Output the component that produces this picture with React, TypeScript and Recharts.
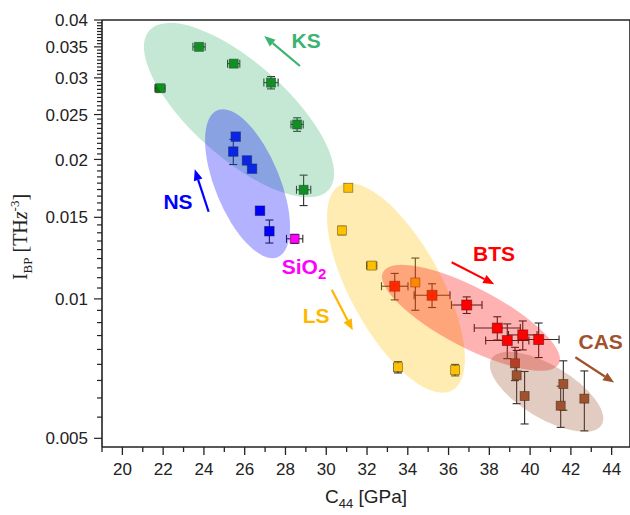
import {
    ScatterChart,
    Scatter,
    XAxis,
    YAxis,
    ErrorBar,
    ReferenceDot,
    ReferenceLine,
} from "recharts"

// C44 [GPa], I_BP [THz^-3], with x / y errors
const KS_X = [21.85, 23.76, 25.46, 27.29, 28.57, 28.89]
const KS_Y = [0.0285, 0.035, 0.0322, 0.0293, 0.0238, 0.0172]
const KS_EX = [0.25, 0.3, 0.3, 0.35, 0.3, 0.35]
const KS_EY = [0.0002, 0.0003, 0.0003, 0.0009, 0.0008, 0.0013]

const NS_X = [25.56, 25.44, 26.11, 26.36, 26.75, 27.21]
const NS_Y = [0.0224, 0.0208, 0.0199, 0.0191, 0.0155, 0.014]
const NS_EX = [0.1, 0.1, 0.1, 0.1, 0.1, 0.1]
const NS_EY = [0.0002, 0.0013, 0.0002, 0.0002, 0.0002, 0.0008]

const SIO2_X = [28.45]
const SIO2_Y = [0.01348]
const SIO2_EX = [0.4]
const SIO2_EY = [0.0003]

const LS_X = [31.08, 30.77, 32.23, 34.37, 33.52, 36.32]
const LS_Y = [0.01737, 0.01405, 0.0118, 0.01085, 0.00712, 0.00702]
const LS_EX = [0.15, 0.15, 0.25, 0.15, 0.15, 0.15]
const LS_EY = [0.0002, 0.0003, 0.0002, 0.0014, 0.0002, 0.0002]

const BTS_X = [33.36, 35.19, 36.89, 38.39, 38.88, 39.64, 40.42]
const BTS_Y = [0.01065, 0.01018, 0.0097, 0.00865, 0.00813, 0.00836, 0.00817]
const BTS_EX = [0.65, 0.88, 0.75, 1.13, 1.06, 0.7, 1.0]
const BTS_EY = [0.0007, 0.0006, 0.0004, 0.0005, 0.0007, 0.0006, 0.0007]

const CAS_X = [39.26, 39.34, 39.73, 41.63, 41.5, 42.66]
const CAS_Y = [0.00726, 0.00684, 0.00617, 0.00655, 0.00588, 0.00609]
const CAS_EX = [0.15, 0.15, 0.15, 0.15, 0.15, 0.15]
const CAS_EY = [0.0006, 0.0009, 0.0008, 0.0008, 0.0006, 0.0009]

const X_TICKS = [19, 20, 21, 22, 23, 24, 25, 26, 27, 28, 29, 30, 31, 32, 33, 34, 35, 36, 37, 38, 39, 40, 41, 42, 43, 44]
const X_LABELS = [20, 22, 24, 26, 28, 30, 32, 34, 36, 38, 40, 42, 44]
const Y_LABELS = [0.005, 0.01, 0.015, 0.02, 0.025, 0.03, 0.035, 0.04]

// groups: ellipse centre (data coords) + label / arrow positions
const GROUPS = [
    { name: "KS", color: "#3cb371", cx: 25.72, cy: 0.02556, rx: 120, ry: 47.5, rot: 41.6, lx: 29.01, ly: 0.03622, ax: [28.71, 26.96], ay: [0.03182, 0.03694] },
    { name: "NS", color: "#0000ff", cx: 26.14, cy: 0.01773, rx: 79.4, ry: 32.4, rot: 67.7, lx: 22.73, ly: 0.01627, ax: [24.23, 23.55], ay: [0.01542, 0.01904] },
    { name: "LS", color: "#ffc000", cx: 33.42, cy: 0.01056, rx: 117, ry: 45.6, rot: 61.3, lx: 29.5, ly: 0.00922, ax: [30.27, 31.3], ay: [0.01047, 0.00856] },
    { name: "BTS", color: "#ff0000", cx: 37.1, cy: 0.0091, rx: 99.2, ry: 29.8, rot: 27.6, lx: 38.23, ly: 0.01256, ax: [36.15, 38.24], ay: [0.012, 0.01076] },
    { name: "CAS", color: "#a0522d", cx: 40.81, cy: 0.0063, rx: 64.2, ry: 26.3, rot: 30.9, lx: 43.46, ly: 0.00809, ax: [42.22, 44.12], ay: [0.00748, 0.0066] },
]

const FONT = "'Liberation Sans', Arial, sans-serif"

const zip = (xs: number[], ys: number[], ex: number[], ey: number[]) =>
    xs.map((x, i) => ({ x, y: ys[i], ex: ex[i], ey: ey[i] }))

const Y_TICKS = (() => {
    const t: number[] = []
    for (let i = 0; i < Y_LABELS.length; i++) {
        t.push(Y_LABELS[i])
        if (i < Y_LABELS.length - 1) {
            const step = (Y_LABELS[i + 1] - Y_LABELS[i]) / 9
            for (let k = 1; k < 9; k++) t.push(Y_LABELS[i] + k * step)
        }
    }
    return t
})()

const isMajorY = (v: number) => Y_LABELS.some((m) => Math.abs(m - v) < 1e-7)

function XTick(props: any) {
    const { x, y, payload } = props
    const major = X_LABELS.includes(payload.value)
    return (
        <g>
            <line x1={x} x2={x} y1={y} y2={y + (major ? 8 : 5)} stroke="#222" strokeWidth={1.3} />
            {major && (
                <text x={x} y={y + 28} textAnchor="middle" fontSize={17} fontFamily={FONT} fill="#222">
                    {payload.value}
                </text>
            )}
        </g>
    )
}

function YTick(props: any) {
    const { x, y, payload } = props
    const major = isMajorY(payload.value)
    return (
        <g>
            <line x1={x - (major ? 8 : 5)} x2={x} y1={y} y2={y} stroke="#222" strokeWidth={1.2} />
            {major && (
                <text x={x - 14} y={y} dy="0.36em" textAnchor="end" fontSize={17} fontFamily={FONT} fill="#222">
                    {String(payload.value)}
                </text>
            )}
        </g>
    )
}

const square = (fill: string, size: number) => (p: any) => (
    <rect
        x={p.cx - size / 2}
        y={p.cy - size / 2}
        width={size}
        height={size}
        fill={fill}
        stroke="#111"
        strokeOpacity={0.55}
        strokeWidth={0.9}
    />
)

const arrow = (color: string) => (p: any) => {
    const { x1, y1, x2, y2 } = p
    const a = Math.atan2(y2 - y1, x2 - x1)
    const L = 11
    const W = 4.5
    const bx = x2 - L * Math.cos(a)
    const by = y2 - L * Math.sin(a)
    const nx = -Math.sin(a) * W
    const ny = Math.cos(a) * W
    return (
        <g>
            <line x1={x1} y1={y1} x2={bx} y2={by} stroke={color} strokeWidth={2.2} />
            <polygon points={`${x2},${y2} ${bx + nx},${by + ny} ${bx - nx},${by - ny}`} fill={color} />
        </g>
    )
}

function YTitle() {
    return (
        <text transform="translate(27,237) rotate(-90)" textAnchor="middle" fontFamily="'Liberation Serif', 'Times New Roman', serif" fontSize={20} fill="#222">
            I<tspan fontSize={13} dy={5}>BP</tspan>
            <tspan dy={-5}> [TH</tspan>
            <tspan fontStyle="italic">z</tspan>
            <tspan fontSize={13} dy={-8}>-3</tspan>
            <tspan dy={8}>]</tspan>
        </text>
    )
}

function XTitle() {
    return (
        <text x={366} y={503} textAnchor="middle" fontFamily={FONT} fontSize={19} fill="#222">
            C<tspan fontSize={13} dy={5}>44</tspan>
            <tspan dy={-5}> [GPa]</tspan>
        </text>
    )
}

const SERIES = [
    { name: "KS", fill: "#008000", size: 9, data: zip(KS_X, KS_Y, KS_EX, KS_EY) },
    { name: "NS", fill: "#0000ff", size: 9.5, data: zip(NS_X, NS_Y, NS_EX, NS_EY) },
    { name: "SiO2", fill: "#ff00ff", size: 9, data: zip(SIO2_X, SIO2_Y, SIO2_EX, SIO2_EY) },
    { name: "LS", fill: "#ffc000", size: 9, data: zip(LS_X, LS_Y, LS_EX, LS_EY) },
    { name: "BTS", fill: "#ff0000", size: 10, data: zip(BTS_X, BTS_Y, BTS_EX, BTS_EY) },
    { name: "CAS", fill: "#a0522d", size: 9, data: zip(CAS_X, CAS_Y, CAS_EX, CAS_EY) },
]

export default function App() {
    return (
        <div style={{ position: "absolute", left: 0, top: 0, width: 630, height: 515, background: "#fff" }}>
            <ScatterChart width={630} height={515} margin={{ top: 20, right: 0, left: 0, bottom: 0 }}>
                <XAxis
                    type="number"
                    dataKey="x"
                    domain={[19, 44.9]}
                    ticks={X_TICKS}
                    interval={0}
                    allowDataOverflow
                    height={68}
                    tickSize={0}
                    tickMargin={0}
                    tickLine={false}
                    tick={<XTick />}
                    axisLine={{ stroke: "#222", strokeWidth: 1.6 }}
                    label={<XTitle />}
                />
                <YAxis
                    type="number"
                    dataKey="y"
                    scale="log"
                    domain={[0.004789, 0.04]}
                    ticks={Y_TICKS}
                    interval={0}
                    allowDataOverflow
                    width={102}
                    tickSize={0}
                    tickMargin={0}
                    tickLine={false}
                    tick={<YTick />}
                    axisLine={{ stroke: "#222", strokeWidth: 1.6 }}
                    label={<YTitle />}
                />
                <ReferenceLine y={0.04} stroke="#222" strokeWidth={1.6} />
                <ReferenceLine x={44.9} stroke="#222" strokeWidth={1.6} />

                {SERIES.map((s) => (
                    <Scatter key={s.name} name={s.name} data={s.data} fill={s.fill} shape={square(s.fill, s.size)} isAnimationActive={false}>
                        <ErrorBar dataKey="ey" direction="y" width={4} stroke="#2a2a2a" strokeWidth={1.1} />
                        <ErrorBar dataKey="ex" direction="x" width={4} stroke="#2a2a2a" strokeWidth={1.1} />
                    </Scatter>
                ))}

                {GROUPS.map((g) => (
                    <ReferenceDot
                        key={"e" + g.name}
                        x={g.cx}
                        y={g.cy}
                        ifOverflow="visible"
                        shape={(p: any) => (
                            <ellipse
                                cx={p.cx}
                                cy={p.cy}
                                rx={g.rx}
                                ry={g.ry}
                                transform={`rotate(${g.rot} ${p.cx} ${p.cy})`}
                                fill={g.color}
                                fillOpacity={0.3}
                            />
                        )}
                    />
                ))}

                {GROUPS.map((g) => (
                    <ReferenceLine
                        key={"a" + g.name}
                        segment={[
                            { x: g.ax[0], y: g.ay[0] },
                            { x: g.ax[1], y: g.ay[1] },
                        ]}
                        ifOverflow="visible"
                        shape={arrow(g.name === "LS" ? "#ffb400" : g.color)}
                    />
                ))}

                {GROUPS.map((g) => (
                    <ReferenceDot
                        key={"t" + g.name}
                        x={g.lx}
                        y={g.ly}
                        ifOverflow="visible"
                        shape={(p: any) => (
                            <text x={p.cx} y={p.cy} dy="0.36em" textAnchor="middle" fontFamily={FONT} fontWeight="bold" fontSize={21} fill={g.name === "LS" ? "#ffb800" : g.color}>
                                {g.name}
                            </text>
                        )}
                    />
                ))}
                <ReferenceDot
                    x={28.91}
                    y={0.01176}
                    ifOverflow="visible"
                    shape={(p: any) => (
                        <text x={p.cx} y={p.cy} dy="0.36em" textAnchor="middle" fontFamily={FONT} fontWeight="bold" fontSize={21} fill="#ff00ff">
                            SiO<tspan fontSize={15} dy={5}>2</tspan>
                        </text>
                    )}
                />
            </ScatterChart>
        </div>
    )
}
